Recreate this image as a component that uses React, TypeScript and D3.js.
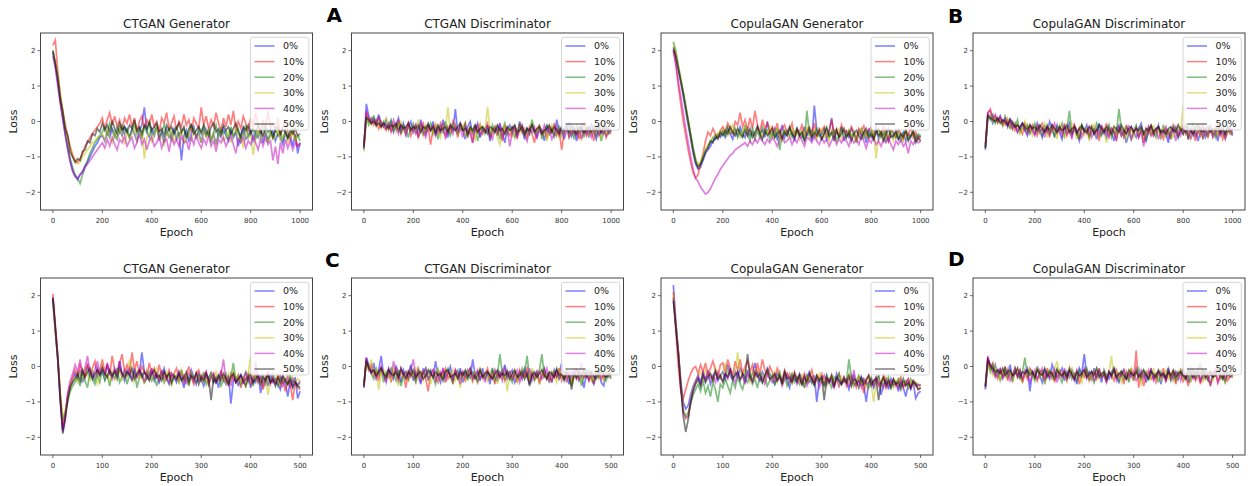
import React from 'react';
import * as d3 from 'd3';

// ---------- data ----------
const SERIES_LABELS = ['0%', '10%', '20%', '30%', '40%', '50%'];
const SERIES_COLORS = ['#0000ff', '#ff0000', '#008000', '#bfbf00', '#bf00bf', '#000000'];
const Y_TICKS = [-2, -1, 0, 1, 2];
const X_TICKS_1000 = [0, 200, 400, 600, 800, 1000];
const X_TICKS_500 = [0, 100, 200, 300, 400, 500];
const EPOCHS_1000 = d3.range(0, 1001, 10);
const EPOCHS_500 = d3.range(0, 501, 5);
const LETTERS = ['A', 'B', 'C', 'D'];

// Loss values, in hundredths (loss x 100); one array per noise level 0%..50%
const A_CTGAN_GEN = [
  [195,160,110,55,10,-35,-75,-110,-140,-155, -165,-150,-140,-125,-115,-100,-85,-70,-60,-45, -40,-55,-30,-45,-20,-35,-50,-25,-40,-15, -30,-45,-20,-35,-55,-25,-10,40,-30,-45, -20,-40,-15,-50,-30,-60,-25,-45,-35,-20, -50,-30,-110,-40,-25,-55,-35,-15,-45,-30, -60,-25,-40,-20,-50,-35,-65,-30,-45,-20, -40,-55,-25,-45,-30,-70,-35,-20,-50,-40, -25,-55,-35,-45,-20,-60,-30,-50,-40,-25, -55,-35,-45,-65,-30,-50,-40,-70,-35,-90, -60],
  [215,230,140,75,30,-10,-40,-70,-95,-110, -115,-105,-90,-70,-60,-45,-35,-25,-15,-5, 10,-20,5,25,-10,15,-15,5,-25,10, -5,20,-15,10,-30,0,15,-20,5,-10, 20,-15,0,-30,10,-5,25,-20,-5,15, -25,0,-15,20,-10,5,-30,10,-5,-20, 40,-10,15,-20,5,-15,25,-5,-25,10, -15,20,-10,30,-25,0,-20,15,-5,-30, 10,-15,25,-10,-35,5,-20,30,-15,-5, -25,10,-40,-15,-5,-30,-50,-20,-45,-70, -60],
  [200,160,115,60,15,-30,-70,-105,-130,-150, -160,-175,-150,-130,-110,-90,-75,-60,-50,-40, -30,-15,-40,-5,-25,-45,-15,-30,-10,-35, -20,-45,-25,-10,-35,-20,-50,-15,-30,-5, -40,-25,-15,-45,-30,-10,-35,-20,-55,-25, -15,-40,-30,-20,-50,-35,-10,-25,-45,-20, -35,-15,-40,-25,-60,-30,-10,-45,-20,-35, -25,-50,-15,-40,-30,-20,-55,-35,-10,-45, -30,-20,-50,-25,-40,-15,-35,-60,-25,-45, -20,-40,-30,-55,-25,-45,-35,-20,-50,-40, -55],
  [190,175,130,80,30,-10,-50,-80,-100,-115, -120,-115,-100,-90,-80,-70,-60,-55,-45,-40, -35,-55,-25,-45,-60,-30,-50,-20,-40,-65, -30,-50,-35,-20,-55,-40,-25,-105,-45,-30, -60,-35,-20,-50,-40,-70,-30,-45,-25,-55, -35,-50,-20,-65,-40,-30,-55,-25,-45,-35, -60,-30,-45,-20,-50,-35,-70,-40,-25,-55, -45,-30,-60,-35,-20,-50,-40,-75,-30,-45, -35,-95,-45,-25,-55,-40,-30,-60,-35,-50, -45,-25,-55,-40,-35,-60,-45,-30,-50,-40, -45],
  [185,150,100,50,5,-40,-80,-115,-140,-155, -160,-150,-145,-130,-120,-110,-100,-90,-80,-70, -60,-75,-50,-70,-45,-65,-80,-50,-60,-40, -70,-55,-45,-75,-60,-35,-65,-50,-80,-55, -45,-70,-60,-40,-75,-55,-50,-85,-45,-65, -50,-70,-40,-60,-55,-80,-45,-65,-35,-60, -75,-50,-65,-40,-70,-55,-85,-50,-60,-45, -70,-55,-40,-65,-90,-50,-60,-45,-75,-55, -65,-40,-60,-80,-50,-70,-45,-65,-55,-110, -70,-120,-60,-90,-50,-75,-55,-80,-60,-70, -65],
  [200,165,125,65,30,-20,-40,-85,-100,-115, -105,-110,-85,-80,-55,-60,-35,-40,-20,-30, -5,-25,-10,-30,0,-20,-35,-5,-25,-15, -30,-10,-20,5,-25,-15,-35,-10,-20,0, -25,-15,-5,-30,-20,-40,-10,-25,-15,-35, -20,-5,-30,-15,-45,-20,-10,-35,-25,-15, -30,-10,-25,-40,-15,-5,-30,-20,-35,-10, -25,-15,-35,-20,-5,-30,-45,-15,-25,-10, -35,-20,-30,-10,-25,-40,-15,-30,-20,-45, -25,-15,-35,-20,-30,-45,-25,-35,-20,-40, -35],
];
const A_CTGAN_DISC = [
  [-80,50,15,-5,10,-10,20,-5,-15,5, -20,0,-30,-10,10,-25,-5,-35,-15,0, -30,-10,-45,5,-20,-35,-10,-25,0,-40, -15,-30,5,-20,-45,-10,-25,35,-35,-5, -20,-50,-15,0,-35,-25,-5,-45,-20,-30, -10,-55,-25,-15,-40,-5,-30,-60,-20,-10, -35,-15,-45,0,-25,-50,-20,-35,-5,-30, -45,-15,-25,-55,-10,-35,-20,-40,5,-30, -15,-50,-25,-5,-40,-20,-55,-30,-10,-35, -20,-45,-5,-30,-50,-15,-35,-25,-40,-20, -30],
  [-70,25,0,10,-10,5,-20,0,-15,-25, -5,-30,-10,-20,5,-35,-15,-25,-5,-40, -20,-10,-45,-25,-5,-30,-15,-65,-20,-10, -35,-5,-25,-40,-15,-30,0,-20,-45,-10, -25,-5,-40,-20,-60,-15,-30,-10,-35,-20, -5,-45,-25,-15,-35,-20,-55,-10,-30,-40, -15,-25,-50,-5,-30,-20,-40,-15,-35,-60, -20,-10,-35,-25,-45,-15,-30,-5,-40,-25, -80,-30,-10,-45,-20,-35,-15,-50,-25,-5, -40,-20,-30,-55,-15,-35,-25,-10,-45,-30, -35],
  [-65,15,-10,5,15,-5,10,-15,0,-20, -10,5,-25,-15,-5,-35,-10,-20,-45,-15, -5,-30,-20,-10,-40,-15,-25,-5,-35,-20, -50,-15,-30,0,-25,-40,-10,-20,-35,-15, -25,-5,-45,-20,-30,-10,-55,-25,-15,-35, -20,-40,-10,-30,-15,-50,-25,-5,-35,-20, -15,-45,-30,-10,-25,-40,-20,-35,5,-25, -30,-15,-50,-25,-10,-35,-20,-45,-30,-15, -40,-20,-10,-35,-25,-50,-15,-30,-20,-45, -10,-35,-25,-15,-40,-20,-55,-30,-20,-35, -25],
  [-85,5,10,-10,0,-15,5,-20,-5,10, -25,-10,-5,-30,-15,0,-20,-35,-10,-25, -15,-30,5,-20,-40,-10,-25,-15,-35,-5, -25,-45,-10,-20,40,-30,-15,-5,-35,-20, -10,-40,-25,-15,-30,-50,-20,-5,-35,-25, 40,-20,-35,-15,-45,-65,-25,-10,-30,-20, -45,-15,-25,-35,-10,-30,-50,-20,-5,-35, -25,-15,-40,-20,-55,-30,-10,-35,-25,-45, -20,-35,-10,-45,-25,-15,-35,-20,-50,-30, -15,-40,-25,-35,-10,-30,-45,-20,-35,-25, -30],
  [-70,30,10,-5,5,-10,15,-15,-5,-20, -10,-25,5,-15,-35,-10,-20,-40,-5,-25, -15,-35,-20,-5,-30,-45,-15,-25,-10,-40, -20,-30,-5,-50,-25,-15,-35,-10,-30,-20, -45,-15,-25,-35,-60,-20,-10,-40,-25,-30, -15,-35,-50,-20,-25,-10,-45,-30,-20,-70, -30,-15,-40,-25,-10,-35,-55,-20,-30,-15, -45,-25,-35,-10,-30,-20,-50,-35,-15,-40, -25,-35,-10,-45,-30,-20,-40,-15,-50,-25, -35,-20,-45,-30,-15,-40,-25,-35,-20,-30, -25],
  [-75,10,5,-5,0,-10,-5,-15,-5,-10, -20,-10,-15,-5,-25,-10,-20,-15,-5,-25, -15,-20,-10,-30,-15,-20,-5,-25,-15,-30, -10,-25,-20,-15,-30,-10,-20,-25,-15,-5, -25,-20,-35,-15,-25,-10,-30,-20,-15,-25, -35,-15,-20,-30,-10,-25,-20,-35,-15,-25, -20,-10,-30,-25,-15,-35,-20,-25,-10,-30, -20,-15,-35,-25,-20,-10,-30,-15,-25,-35, -15,-25,-20,-30,-10,-25,-35,-15,-20,-30, -25,-15,-30,-20,-25,-10,-30,-20,-15,-25, -20],
];
const B_COPULA_GEN = [
  [205,180,145,110,70,30,-10,-50,-90,-120, -135,-130,-110,-90,-80,-70,-55,-50,-40,-45, -30,-45,-20,-35,-50,-25,-40,-15,-35,-45, -20,-40,-30,-50,-15,-35,-25,-45,0,-30, -40,-20,-50,-35,-10,-45,-25,-40,-30,-55, -20,-35,-45,-15,-40,-30,-55,45,-25,-40, -35,-20,-50,-30,10,-45,-25,-40,-15,-55, -30,-45,-20,-35,-50,-25,-40,-30,-60,-20, -45,-35,-15,-50,-30,-40,-25,-55,-35,-45, -25,-50,-40,-30,-55,-35,-45,-25,-50,-40, -45],
  [200,160,100,50,0,-40,-80,-115,-145,-160, -150,-120,-90,-55,-30,-40,-20,-35,-45,-25, -15,-30,-5,-20,-35,0,-10,25,-15,5, -25,10,-20,30,-10,-30,5,-20,-5,-35, -15,-30,-5,-40,-20,-10,-35,-25,-5,-45, -20,-30,-10,-40,-25,-15,-35,-5,-45,-20, -30,-15,-40,-25,5,-35,-20,-45,-10,-30, -25,-40,-15,-30,-50,-20,-35,-10,-40,-25, -15,-45,-30,-20,-40,-10,-35,-55,-25,-30, -45,-20,-35,-50,-25,-40,-15,-45,-30,-50, -40],
  [225,200,160,120,85,45,5,-35,-75,-105, -125,-120,-100,-80,-70,-60,-45,-50,-35,-40, -25,-40,-15,-35,-30,-20,-45,-25,-40,-10, -35,-55,-20,-40,-30,-45,-15,-35,-25,-50, -30,-45,-20,-80,-35,-25,-40,-15,-45,-30, -20,-40,-30,-55,30,-35,-25,-45,-20,-40, -50,-30,-15,-45,-35,-25,-55,-40,-20,-35, -45,-25,-40,-30,-60,-35,-20,-45,-30,-40, -25,-50,-35,-20,-45,-30,-55,-40,-25,-35, -45,-30,-55,-35,-25,-50,-40,-30,-45,-35, -40],
  [220,195,155,120,80,40,0,-40,-75,-110, -120,-115,-95,-80,-65,-55,-45,-35,-40,-25, -35,-20,-40,-25,-10,-35,-20,-45,-30,-15, -40,-25,-35,-50,-20,-30,-45,-25,-35,-15, -45,-30,-20,-40,-55,-25,-35,-45,-20,-40, -30,-50,-25,-40,-15,-45,-35,-25,-50,-30, -20,-45,-35,-55,-25,-40,-30,-20,-50,-35, -40,-25,-45,-30,-60,-35,-20,-45,-30,-50, -35,-25,-105,-40,-30,-50,-25,-45,-35,-55, -30,-45,-35,-60,-25,-50,-40,-30,-55,-45, -50],
  [200,165,115,70,25,-20,-60,-100,-135,-160, -170,-185,-195,-205,-200,-190,-175,-160,-150,-135, -125,-115,-105,-95,-90,-80,-75,-70,-65,-60, -70,-55,-65,-50,-60,-45,-55,-65,-50,-60, -45,-55,-70,-50,-40,-60,-55,-45,-65,-50, -60,-40,-55,-70,-45,-50,-60,-40,-55,-65, -45,-60,-50,-70,-55,-40,-65,-50,-60,-45, -55,-70,-45,-60,-50,-65,-40,-55,-75,-50, -60,-45,-65,-55,-70,-50,-60,-45,-65,-80, -55,-65,-50,-70,-60,-90,-55,-65,-50,-60, -55],
  [210,185,150,115,80,40,0,-40,-80,-115, -130,-120,-105,-85,-75,-55,-60,-40,-50,-30, -40,-25,-35,-15,-30,-40,-20,-35,-45,-25, -40,-20,-45,-30,-15,-35,-50,-25,-40,-30, -20,-45,-35,-25,-50,-30,-40,-15,-35,-45, -25,-40,-30,-55,-35,-20,-45,-30,-40,-25, -50,-35,-20,-40,-30,-55,-25,-45,-35,-20, -45,-30,-55,-35,-25,-40,-50,-30,-20,-45, -35,-50,-25,-40,-30,-55,-35,-20,-45,-40, -30,-50,-35,-45,-25,-55,-40,-30,-60,-45, -55],
];
const B_COPULA_DISC = [
  [-80,20,15,-5,10,0,15,-10,5,-15, 10,-20,-5,-30,-15,-5,-25,-40,-10,-20, -35,-5,-25,-45,-15,-30,0,-20,-40,-10, -30,-50,-15,-25,-5,-40,-20,-35,-55,-15, -25,-10,-45,-30,-20,-50,-5,-35,-25,-45, -15,-30,-55,-20,-10,-40,-25,-60,-35,-15, -30,-45,-20,-5,-35,-55,-25,-15,-40,-30, -10,-45,-25,-35,-60,-20,-30,-15,-45,-25, -35,-5,-50,-25,-40,-15,-55,-30,-20,-45, -25,-10,-40,-30,-55,-20,-35,-45,-15,-30, -40],
  [-70,25,35,5,15,-5,10,0,-10,5, -15,0,-25,-10,-20,-35,-5,-15,-30,-10, -25,-40,-15,-5,-30,-20,-45,-10,-25,-35, -15,-30,-5,-40,-20,-35,-10,-25,-50,-15, -30,-20,-40,-10,-35,-25,-55,-15,-30,-5, -40,-20,-30,-50,-15,-25,-45,-10,-35,-20, -30,-15,-45,-25,-60,-20,-35,-10,-40,-25, -15,-35,-50,-20,-30,-45,-10,-25,-40,-20, -35,-15,-45,-25,-30,-55,-20,-40,-10,-30, -45,-20,-35,-15,-40,-25,-50,-30,-20,-35, -25],
  [-75,15,5,20,-5,10,0,-10,15,-5, -20,-5,-15,5,-30,-15,-25,-10,-35,-20, -5,-30,-15,-40,-25,-10,-35,-20,-45,-15, -25,-5,-40,-20,30,-35,-15,-25,-50,-10, -30,-20,-45,-15,-35,-5,-25,-40,-20,-30, -10,-45,-25,-35,35,-20,-40,-15,-30,-50, -25,-10,-40,-20,-30,-55,-15,-35,-25,-45, -20,-35,-10,-40,-25,-50,-15,-30,-45,-20, -35,-15,-45,-25,-5,-40,-30,-20,-50,-25, -40,-15,-30,-45,-20,-35,-10,-40,-25,-30, -35],
  [-70,10,20,0,10,-5,5,-15,0,10, -10,-25,-5,-15,-35,-20,0,-30,-10,-40, -20,-10,-35,-25,-5,-45,-15,-30,-20,-50, -10,-30,-45,-20,-35,-5,-25,-50,-15,-30, -40,-20,-55,-25,-10,-35,-45,-15,-30,-60, -20,-35,-10,-45,-25,-40,-15,-50,-30,-20, -45,-25,-35,-15,-55,-30,-20,-40,-10,-35, -25,-50,-15,-40,-30,-20,-45,-35,-10,-30, 45,-40,-20,-50,-30,-15,-35,-25,-45,-20, -35,-10,-45,-25,-40,-15,-30,-50,-20,-35, -30],
  [-65,25,30,10,20,0,15,-5,10,-10, 0,-20,-10,-30,-15,-5,-25,-35,-15,-25, -40,-10,-30,-20,-45,-15,-35,-25,-5,-30, -20,-40,-15,-35,-25,-50,-10,-30,-20,-45, -25,-35,-15,-45,-30,-20,-40,-10,-35,-25, -45,-20,-30,-55,-15,-40,-25,-35,-10,-50, -30,-20,-45,-25,-70,-35,-15,-40,-30,-20, -50,-25,-35,-15,-45,-30,-20,-55,-25,-40, -10,-35,-25,-50,-20,-40,-30,-15,-45,-25, -35,-20,-45,-30,-15,-40,-25,-50,-30,-20, -35],
  [-75,15,10,5,0,10,-5,5,0,-10, 5,-5,-15,-10,-20,-5,-15,-25,-10,-20, -15,-25,-10,-20,-30,-15,-25,-10,-20,-30, -15,-25,-20,-10,-30,-20,-15,-35,-20,-10, -25,-30,-15,-20,-35,-25,-10,-20,-30,-15, -25,-35,-15,-20,-30,-10,-25,-35,-20,-15, -30,-20,-25,-15,-35,-20,-25,-10,-30,-20, -15,-30,-25,-35,-20,-15,-25,-30,-10,-25, -20,-30,-15,-25,-35,-20,-10,-25,-30,-20, -15,-30,-20,-25,-10,-30,-20,-35,-15,-25, -20],
];
const C_CTGAN_GEN = [
  [190,100,15,-100,-180,-140,-85,-55,-40,-20, -35,-10,-45,-20,0,-30,-15,-40,-5,-25, -15,-35,5,-20,-30,-10,-25,15,-20,-40, -10,-25,-35,-5,-30,-20,40,-15,-35,-25, -10,-40,-20,-45,-25,-5,-35,-50,-20,-30, -45,-15,-35,-60,-25,-40,-10,-30,-50,-20, -35,-55,-25,-40,-15,-45,-30,-60,-20,-35, -50,-25,-105,-40,-30,-55,-20,-45,-35,-25, -60,-35,-45,-20,-75,-40,-30,-55,-25,-45, -35,-50,-65,-30,-45,-85,-40,-55,-30,-90, -70],
  [205,120,30,-80,-170,-130,-80,-50,-30,-10, -25,5,-15,-30,10,-20,-5,15,-25,-10, 20,-15,5,-25,30,-10,-20,10,35,-15, 5,-20,40,-10,15,-25,0,-15,-30,10, -20,-5,-35,5,-25,-15,-40,-10,-30,-20, -5,-35,-15,-45,-25,0,-30,-50,-20,-10, -40,-25,-15,-50,-30,-20,-45,-35,-10,-40, -30,-55,-20,-35,-45,-25,-60,-30,-40,-20, -50,-35,-25,-45,-30,-65,-40,-20,-50,-35, -45,-25,-55,-35,-70,-40,-50,-95,-45,-60, -65],
  [190,105,20,-85,-150,-130,-100,-70,-55,-45, -30,-55,-20,-40,-60,-15,-35,-50,-25,-45, -10,-40,-25,-55,-20,-35,-5,-45,-30,-15, -50,-25,-40,-10,-60,-30,-20,-45,-35,-15, -40,-25,-55,-30,-15,-45,-35,-20,-50,-30, -25,-45,-10,-40,-30,-55,-20,-35,-45,-25, -40,-15,-50,-30,-20,-45,-35,-25,-55,-40, -20,-45,-30,10,-40,-25,-50,-35,-15,-45, -30,-55,-20,-40,-35,-25,-50,-30,-45,-20, -40,-55,-30,-45,-35,-50,-25,-45,-40,-55, -45],
  [175,95,30,-70,-140,-125,-90,-55,-40,-30, -45,-15,-35,-5,-25,-40,-10,-30,-50,-20, 10,-30,-20,-45,-10,-35,-25,-5,-40,-15, -30,20,-20,-45,-15,-35,-25,-50,-10,-30, -40,-20,-5,-35,-25,-45,-15,-30,-55,-20, -35,-45,-10,-30,-25,-50,-20,-40,-15,-35, -25,-45,-30,-55,-20,-35,-15,-40,-30,-25, -50,-20,-40,-10,-35,-25,-45,-30,-60,-20, 30,-40,-25,-45,-35,-55,-20,-80,-40,-30, -45,-25,-50,-35,-40,-20,-55,-30,-45,-35, -40],
  [195,105,20,-95,-185,-145,-75,-40,-20,5, -15,20,-25,-5,30,-15,-30,-10,15,-20, 0,-25,10,-15,-35,-5,-20,15,-30,-10, -25,-5,-40,-15,-30,-10,-20,-45,-15,-35, -5,-30,-20,-40,-10,-35,-25,-45,-20,-30, -40,-15,-35,-25,-50,-20,-30,-45,-15,-40, -25,-35,-15,-50,-30,-20,-45,-35,-25,20, -40,-30,-55,-20,-45,-35,-25,-50,-15,-40, -30,-45,15,-40,-25,-55,-35,-20,-45,-30, -50,-35,-25,-55,-40,-30,-60,-35,-45,-50, -40],
  [195,110,25,-90,-190,-150,-95,-60,-45,-35, -20,-40,-10,-30,-15,-5,-35,-20,-10,-25, -5,-20,-30,-10,-25,-15,-35,-5,-20,-30, -15,-25,-5,-35,-20,-10,-30,-15,-25,-40, -20,-10,-30,-25,-40,-15,-30,-20,-45,-25, -35,-20,-40,-30,-15,-45,-25,-35,-20,-50, -30,-40,-20,-35,-95,-30,-45,-25,-40,-20, -35,-50,-30,-20,-45,-35,-25,-40,-55,-30, -20,-45,-35,-25,-50,-30,-40,-20,-45,-35, -55,-30,-45,-25,-40,-50,-35,-60,-45,-55, -60],
];
const C_CTGAN_DISC = [
  [-60,25,5,-20,10,-30,-10,30,-25,-40, -5,-20,-35,0,-15,-45,-10,-30,-20,5, -40,-15,-25,-50,-5,-30,-20,-10,-35,15, -25,-45,-10,-30,-20,0,-40,-15,-30,-5, -45,-20,-10,-35,20,-25,-15,-40,-5,-30, -20,-50,-10,-30,-40,-15,-25,5,-35,-20, -10,-45,-30,-15,-35,-5,-25,-50,-20,-30, -15,-40,-25,-5,-35,-20,-45,-10,-30,-20, 10,-35,-20,-50,-15,-30,-5,-40,-25,-60, -20,-10,-35,-50,-25,-15,-45,-55,-20,-30, -15],
  [-55,20,-10,5,-25,-15,-40,-5,-20,-30, -10,-45,-20,-5,-35,-15,-25,-60,-10,-30, -20,-40,-5,-25,-15,-35,-70,-20,-10,-30, -45,-15,-25,-5,-35,-20,-50,-10,-30,-25, -15,-40,-20,-5,-35,-25,-45,-10,-30,-20, -5,-35,-20,-50,-15,-30,-10,-40,-25,-15, -35,-20,-45,-10,-30,-25,-5,-40,-20,-35, -15,-50,-25,-10,-35,-20,-45,-15,-30,-5, -40,-20,-30,-15,-45,-25,-10,-35,-20,-30, -15,-40,-25,-50,-10,-30,-20,-35,-15,-25, -30],
  [-50,15,0,-20,-35,-5,-25,-10,-45,-15, -30,-5,-20,-40,-10,-55,-25,-15,-35,-5, -25,-45,-10,-30,-20,-5,-40,-15,-30,-50, -10,-25,-35,-15,-5,-30,-45,-20,-10,-35, -25,-15,-40,-5,-30,-20,-45,-10,-25,-35, -15,-30,-5,-40,-25,35,-20,-35,-10,-30, -45,-15,-25,-35,-5,-20,30,-30,-15,-40, -25,-10,35,-30,-20,-45,-15,-25,-5,-35, -20,-40,-10,-30,-50,-20,-35,-15,-55,-25, -10,-35,-20,-40,-15,-30,-5,-25,-40,-20, -35],
  [-55,10,-15,20,-30,-5,-65,-20,-10,-35, -15,-40,-5,-25,-55,-10,-30,-20,-45,-15, -25,-5,-35,-15,-40,-20,-10,-50,-25,-30, -5,-35,-20,-45,-15,-30,-10,-40,-25,-60, -20,-35,-10,-30,-45,-15,-25,-5,-35,-20, -40,-15,-30,-10,-50,-25,-35,-15,-70,-20, -30,-10,-45,-25,-15,-35,-20,-40,-5,-30, -25,-45,-10,-30,-20,-35,-15,-25,-45,-10, -30,-20,-40,-15,-55,-25,-35,-10,-45,-20, -30,-15,-40,-25,-10,-35,-20,-45,-15,-30, -20],
  [-60,25,-5,-20,-10,-35,-15,0,-25,-45, -10,-30,15,-20,-40,-5,-25,-15,-35,-10, 20,-30,-15,-45,-20,-5,-35,-25,-10,-40, -20,-30,-5,-45,-15,-25,-35,-10,-20,-50, -15,-30,-20,-5,-40,-25,-10,-35,-20,-45, -15,-25,-35,-10,-30,-20,-40,-5,-25,-15, -35,-20,-10,-45,-25,-15,-30,-5,-40,-20, -30,-15,-35,-25,-5,-40,-20,-30,-10,-35, -25,-15,-45,-20,-30,-5,-35,-25,10,-30, -20,-40,-15,-30,-25,-10,-35,-20,-30,-25, -20],
  [-55,15,-5,-15,-10,-25,-15,-5,-20,-30, -10,-20,-25,-15,-30,-5,-20,-35,-15,-25, -10,-30,-20,-15,-35,-25,-10,-20,-30,-15, -25,-20,-40,-15,-10,-30,-25,-20,-35,-15, -25,-10,-30,-20,-15,-35,-25,-10,-30,-20, -15,-25,-35,-20,-10,-30,-20,-25,-15,-35, -20,-10,-30,-25,-15,-35,-20,-55,-25,-15, -30,-20,-10,-25,-35,-15,-20,-30,-10,-25, -20,-35,-15,-25,-65,-20,-30,-15,-25,-10, -30,-20,-15,-25,-35,-20,-10,-25,-30,-20, -25],
];
const D_COPULA_GEN = [
  [230,130,40,-40,-100,-120,-110,-80,-55,-40, -25,-45,-15,-35,-20,-50,-30,-10,-40,-25, -15,-35,5,-25,-40,-15,-30,-5,-20,-45, -10,-35,-20,10,-25,-40,-15,-30,-5,-20, -35,-50,-20,-30,-45,-15,-40,-60,-25,-35, -45,-20,-35,-55,-30,-15,-45,-25,-100,-40, -30,-55,-25,-45,-35,-60,-20,-40,-50,-30, -45,-65,-35,-25,-50,-40,-30,-55,-100,-45, -35,-60,-45,-30,-80,-50,-40,-65,-35,-55, -45,-70,-40,-60,-85,-50,-65,-45,-90,-75, -70],
  [210,100,0,-70,-90,-65,-40,-20,-5,0, -20,5,-15,10,-25,-5,15,-10,-30,5, 10,-15,20,-5,-25,15,-10,20,-20,0, 15,-15,5,-30,10,-20,20,-10,-25,0, -15,-35,-5,-25,-40,-10,-30,-20,-45,-15, -35,-25,-50,-20,-40,-30,-10,-45,-25,-35, -20,-50,-30,-40,-25,-55,-35,-20,-45,-30, -55,-35,-25,-45,-60,-30,-40,-75,-35,-25, -50,-40,-30,-55,-45,-25,-60,-40,-50,-35, -55,-40,-30,-60,-45,-35,-55,-40,-50,-65, -60],
  [190,115,45,-50,-125,-140,-130,-105,-80,-65, -50,-70,-40,-75,-55,-85,-45,-65,-100,-50, -60,-35,-55,-75,-40,-60,-30,-50,-65,-35, -45,-20,-50,-35,-60,-25,-45,-30,-55,-40, -25,-50,-35,-15,-45,-30,-55,-40,-20,-45, -30,-50,-35,-60,-25,-45,-40,-55,-30,-45, -35,-55,-25,-45,-60,-30,-40,-20,-50,-35, -45,20,-30,-55,-40,-25,-50,-35,-45,-60, -30,-50,-40,-25,-55,-35,-45,-30,-60,-40, -50,-35,-55,-45,-40,-60,-35,-50,-45,-55, -50],
  [205,120,45,-45,-120,-150,-145,-95,-60,-40, -30,-15,-40,-10,-30,-20,-45,-5,-25,-35, -15,10,-25,-5,-35,-20,40,-15,-30,-10, -25,-45,-15,-35,-5,-30,-20,-40,-10,-25, -35,-15,-45,-25,-55,-30,-20,-40,-50,-25, -35,-45,-20,-55,-30,-40,-25,-50,-35,-20, -45,-30,-55,-40,-25,-50,-35,-60,-30,-45, -40,-25,-55,-35,-45,-30,-50,-40,-60,-35, -50,-100,-45,-35,-55,-40,-30,-50,-45,-60, -40,-55,-35,-50,-45,-60,-40,-55,-45,-50, -55],
  [195,115,40,-55,-130,-145,-140,-100,-65,-45, -30,-50,-20,-40,-10,-35,-25,-45,-15,-30, -40,-20,-35,-5,-30,-45,-15,-35,-25,-50, -20,-35,-45,-25,-15,-40,-30,-50,-20,-35, -45,-25,-40,-30,-55,-35,-20,-45,-40,-25, -50,-35,-45,-25,-55,-40,-30,-50,-35,-60, -40,-25,-50,-35,-45,-60,-30,-55,-40,-45, -35,-55,-45,-10,-50,-40,-60,-35,-50,-45, -40,-55,-30,-50,-45,-60,-35,-55,-40,-50, -45,-60,-40,-55,-50,-35,-60,-45,-55,-50, -55],
  [185,110,35,-60,-140,-185,-150,-100,-70,-50, -35,-55,-25,-45,-30,-20,-40,-15,-35,-25, -45,-20,-30,-10,-35,-25,-15,-40,-20,-30, 35,-25,-40,-15,-30,-20,-45,-25,-10,-35, -30,-20,-40,-25,-50,-15,-35,-30,-45,-20, -40,-25,-55,-30,-45,-20,-35,-50,-25,-40, -30,-95,-35,-45,-25,-55,-30,-40,-50,-35, -45,-25,-55,-35,-40,-60,-30,-50,-40,-25, -55,-40,-35,-95,-45,-30,-55,-40,-60,-35, -50,-45,-65,-35,-55,-45,-60,-40,-50,-65, -60],
];
const D_COPULA_DISC = [
  [-65,15,0,-15,5,-25,-10,-30,-5,-20, 5,-35,-15,-25,-10,-40,-20,-5,-70,-15, -30,0,-25,-45,-10,-20,-35,5,-15,-30, -20,-5,-40,-15,-30,-10,-25,-50,-5,-20, 35,-25,-15,-40,-5,-30,-20,-45,-10,-25, -35,-15,-5,-30,-45,-20,-10,-35,-25,-15, -40,-5,-25,-30,-15,-45,-20,-10,-35,-25, -15,-50,-20,-30,-5,-40,-25,-15,-35,-10, -30,-20,-45,-5,-25,-35,-15,-40,-20,-10, -35,-50,-15,-25,-5,-30,-20,-45,-15,-25, -20],
  [-55,25,-5,10,-20,-35,-10,-25,0,-40, -15,-25,-5,-30,-10,-45,-20,-35,-5,-15, -25,-40,-10,-20,-35,-5,-30,-15,-45,-20, -10,-30,-20,-40,-5,-25,-35,-15,-50,-20, -30,-10,-40,-25,-15,-35,-5,-30,-20,-45, -15,-25,-40,-10,-30,-20,-50,-15,-35,-5, -40,45,-60,-20,-55,-30,-10,-35,-25,-45, -15,-30,-5,-40,-20,-35,-10,-50,-25,-15, -45,-20,-55,-30,-10,-40,-25,-50,-15,-35, -20,-55,-30,-10,-45,-25,-35,-15,-40,-25, -30],
  [-60,10,-15,5,-25,-10,-40,-20,-5,-30, -15,-45,-5,-25,-35,-15,25,-30,-10,-20, -40,-5,-30,-15,-50,-20,-10,-35,-25,-5, -30,-45,-15,-25,-5,-35,-20,-40,-10,-30, -20,-5,-35,-15,-45,-25,-10,-30,-20,-40, -15,-30,0,-25,-40,-10,-35,-20,-45,-15, -30,-20,-5,-35,-25,-15,-40,-10,-30,-20, -45,-15,-30,-25,-5,-35,-20,-40,-15,-25, -10,-35,-20,-45,-5,-30,-15,10,-35,-25, -40,-15,-30,-20,-10,-35,-25,-45,-15,-30, -20],
  [-50,5,-10,-25,0,-20,-35,-10,-30,-5, -15,-40,-20,-5,-30,-45,-15,-25,-10,-35, -20,-5,-30,-15,-45,-10,-25,-35,-5,15, -30,-20,-10,-40,-25,-5,-35,-15,-25,-45, -10,-30,-20,-40,-15,-5,-35,-25,-10,-30, -20,30,-35,-15,-25,-45,-10,-30,-20,-5, -40,-15,-30,-50,-10,-25,-20,-35,-5,-30, -15,-40,-25,-10,-35,-20,-45,-15,-30,-5, -35,-20,-10,-40,-25,-15,-30,-5,-45,-20, -30,-10,-40,-25,-15,-35,-20,-45,-25,-10, -35],
  [-60,30,0,-10,-30,-15,-5,-35,-20,-10, -40,-25,-5,-30,-15,-35,-10,-20,-45,-25, -10,-35,-20,-5,-40,-15,-30,-25,-10,-45, -20,-30,-5,-35,-15,-25,-40,-10,-30,-20, -5,-35,-25,-15,-40,-20,-10,-30,-25,-45, -15,-30,-5,-40,-20,-25,-10,-35,-20,-30, -15,-40,-25,-10,-35,-20,-30,-5,-40,-25, -15,-30,-20,-45,-10,-25,-35,-15,-20,-40, -10,-30,-25,-15,-35,-20,-5,-40,-25,-15, -35,-20,-30,-10,-45,-25,-15,-35,-20,-30, -25],
  [-55,20,5,-5,-15,-10,-20,-5,-25,-15, -10,-25,-20,-5,-30,-15,-20,-10,-25,-15, -30,-10,-20,-25,-5,-30,-15,-20,-35,-10, -20,-25,-15,-30,-10,-20,-35,-15,-25,-20, -10,-30,-20,-15,-25,-5,-30,-20,-15,-35, -15,-25,-10,-30,-20,-15,-25,-35,-10,-20, -25,-15,-30,-20,-10,-25,-35,-15,-20,-30, -10,-25,-20,-35,-15,-25,-10,-30,-20,-15, -25,-35,-10,-20,-30,-15,-25,-20,-10,-30, -20,-15,-30,-25,-10,-20,-35,-15,-25,-20, -25],
];

const PANELS = [
  { title: 'CTGAN Generator', epochs: EPOCHS_1000, ticks: X_TICKS_1000, xmax: 1000, series: A_CTGAN_GEN },
  { title: 'CTGAN Discriminator', epochs: EPOCHS_1000, ticks: X_TICKS_1000, xmax: 1000, series: A_CTGAN_DISC },
  { title: 'CopulaGAN Generator', epochs: EPOCHS_1000, ticks: X_TICKS_1000, xmax: 1000, series: B_COPULA_GEN },
  { title: 'CopulaGAN Discriminator', epochs: EPOCHS_1000, ticks: X_TICKS_1000, xmax: 1000, series: B_COPULA_DISC },
  { title: 'CTGAN Generator', epochs: EPOCHS_500, ticks: X_TICKS_500, xmax: 500, series: C_CTGAN_GEN },
  { title: 'CTGAN Discriminator', epochs: EPOCHS_500, ticks: X_TICKS_500, xmax: 500, series: C_CTGAN_DISC },
  { title: 'CopulaGAN Generator', epochs: EPOCHS_500, ticks: X_TICKS_500, xmax: 500, series: D_COPULA_GEN },
  { title: 'CopulaGAN Discriminator', epochs: EPOCHS_500, ticks: X_TICKS_500, xmax: 500, series: D_COPULA_DISC },
];

// ---------- layout ----------
const COL_X = [40.5, 351.5, 661, 973];
const ROW_Y = [33, 278];
const PW = 272;
const PH = 177;
const LETTER_POS = [
  { x: 326.5, y: 21.5 },
  { x: 948, y: 23 },
  { x: 325, y: 266.5 },
  { x: 948, y: 265.5 },
];
const FONT = 'DejaVu Sans, sans-serif';

function Panel({ p, idx }: { p: (typeof PANELS)[number]; idx: number }) {
  const left = COL_X[idx % 4];
  const top = ROW_Y[Math.floor(idx / 4)];
  const x = d3.scaleLinear().domain([-0.05 * p.xmax, 1.05 * p.xmax]).range([0, PW]);
  const y = d3.scaleLinear().domain([-2.5, 2.5]).range([PH, 0]);
  const clipId = `clip-${idx}`;
  const lg = { x: PW - 62, y: 4.3, w: 58.3, h: 92.7 };
  return (
    <g transform={`translate(${left},${top})`}>
      <defs>
        <clipPath id={clipId}>
          <rect x={0} y={0} width={PW} height={PH} />
        </clipPath>
      </defs>
      <rect x={0} y={0} width={PW} height={PH} fill="#fff" />
      <g clipPath={`url(#${clipId})`}>
        {p.series.map((vals, si) => {
          const line = d3
            .line<number>()
            .defined((_, i) => i < p.epochs.length)
            .x((_, i) => x(p.epochs[i]))
            .y((v) => y(v / 100));
          return (
            <path
              key={si}
              d={line(vals) || ''}
              fill="none"
              stroke={SERIES_COLORS[si]}
              strokeOpacity={0.5}
              strokeWidth={1.7}
              strokeLinejoin="miter"
            />
          );
        })}
      </g>
      {/* legend */}
      <g transform={`translate(${lg.x},${lg.y})`}>
        <rect x={0} y={0} width={lg.w} height={lg.h} rx={2.5} fill="#fff" fillOpacity={0.8} stroke="#cccccc" strokeWidth={0.8} />
        {SERIES_LABELS.map((lab, i) => {
          const cy = 8.7 + i * 15.6;
          return (
            <g key={lab}>
              <line x1={4} x2={24} y1={cy} y2={cy} stroke={SERIES_COLORS[i]} strokeOpacity={0.5} strokeWidth={1.5} />
              <text x={32.5} y={cy} dy="0.35em" fontSize={9.5} fontFamily={FONT} fill="#222">
                {lab}
              </text>
            </g>
          );
        })}
      </g>
      <rect x={0} y={0} width={PW} height={PH} fill="none" stroke="#444" strokeWidth={1} />
      {/* y axis */}
      {Y_TICKS.map((t) => (
        <g key={`y${t}`} transform={`translate(0,${y(t)})`}>
          <line x1={-3} x2={0} stroke="#444" strokeWidth={0.8} />
          <text x={-5} dy="0.35em" textAnchor="end" fontSize={7} fontFamily={FONT} fill="#333">
            {t < 0 ? `\u2212${-t}` : t}
          </text>
        </g>
      ))}
      {/* x axis */}
      {p.ticks.map((t) => (
        <g key={`x${t}`} transform={`translate(${x(t)},${PH})`}>
          <line y1={0} y2={3} stroke="#444" strokeWidth={0.8} />
          <text y={12.5} textAnchor="middle" fontSize={7} fontFamily={FONT} fill="#333">
            {t}
          </text>
        </g>
      ))}
      <text x={PW / 2} y={-5} textAnchor="middle" fontSize={12} fontFamily={FONT} fill="#222">
        {p.title}
      </text>
      <text x={PW / 2} y={PH + 26} textAnchor="middle" fontSize={11} fontFamily={FONT} fill="#222">
        Epoch
      </text>
      <text
        transform={`translate(-24,${PH / 2}) rotate(-90)`}
        textAnchor="middle"
        fontSize={11}
        fontFamily={FONT}
        fill="#222"
      >
        Loss
      </text>
    </g>
  );
}

export default function App() {
  return (
    <svg
      width={1248}
      height={486}
      style={{ position: 'absolute', left: 0, top: 0, background: '#fff' }}
      xmlns="http://www.w3.org/2000/svg"
    >
      <rect x={0} y={0} width={1248} height={486} fill="#fff" />
      {PANELS.map((p, i) => (
        <Panel key={i} p={p} idx={i} />
      ))}
      {LETTERS.map((l, i) => (
        <text
          key={l}
          x={LETTER_POS[i].x}
          y={LETTER_POS[i].y}
          fontSize={20}
          fontWeight="bold"
          fontFamily={FONT}
          fill="#000"
        >
          {l}
        </text>
      ))}
    </svg>
  );
}
